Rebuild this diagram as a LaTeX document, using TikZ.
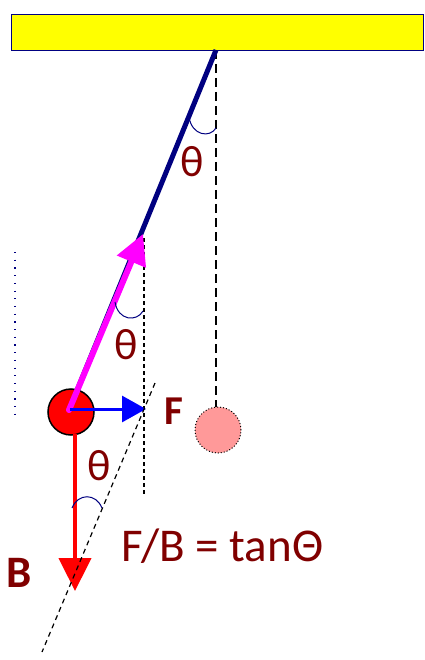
\documentclass[tikz,border=0pt]{standalone}
\usepackage{fontspec}
\setmainfont{Carlito}
\usetikzlibrary{arrows.meta}
\definecolor{maroon}{HTML}{800000}
\definecolor{navy}{HTML}{000080}
\definecolor{pinkball}{HTML}{FF9999}
\definecolor{mag}{HTML}{FF00FF}
\definecolor{yel}{HTML}{FFFF00}
\definecolor{bluearrow}{HTML}{0000FF}
\definecolor{redarrow}{HTML}{FF0000}
\tikzset{
  lbl/.style={text=maroon, inner sep=0pt},
  anglearc/.style={draw=navy, line width=1pt},
  longdash/.style={draw=black, line width=1.2pt, dash pattern=on 9pt off 5pt},
  shortdash/.style={draw=black, line width=1.2pt, dash pattern=on 4pt off 3pt},
  ball/.style={circle, minimum size=46pt, inner sep=0pt},
}
\begin{document}
\begin{tikzpicture}[x=1pt,y=-1pt]
\useasboundingbox (0,0) rectangle (424,660);
% support bar
\node[draw=navy, line width=1pt, fill=yel, minimum width=412pt, minimum height=36pt, inner sep=0pt, anchor=north west] (bar) at (11,14) {};
\coordinate (pivot) at (216,50);
\coordinate (bob) at (69,410);
% equilibrium position
\coordinate (eqtop) at (216,50);
\node[ball, fill=pinkball, draw=black, line width=1pt, dotted] (rest) at (218,430) {};
\draw[longdash] (eqtop) -- (rest.north -| eqtop);
% short dashed vertical
\coordinate (v1) at (144,238);
\coordinate (v2) at (144,494);
\draw[shortdash] (v1) -- (v2);
% dotted left line
\coordinate (d1) at (15,252);
\coordinate (d2) at (15,420);
\draw[navy, line width=1.2pt, dash pattern=on 1.2pt off 6.5pt] (d1) -- (d2);
% string
\draw[navy, line width=5pt] (pivot) -- (bob);
% red ball
\node[ball, fill=redarrow, draw=black, line width=1.5pt] (redball) at (71,412) {};
% tension arrow
\coordinate (Ttip) at (143,234);
\draw[mag, line width=6pt, line cap=round, -{Triangle[length=30pt,width=30pt]}] (bob) -- (Ttip);
% F arrow
\coordinate (Fstart) at (70,409);
\coordinate (Ftip) at (146,409);
\draw[bluearrow, line width=3pt, -{Triangle[length=24pt,width=26pt]}] (Fstart) -- (Ftip);
% B arrow
\coordinate (Bstart) at (75,434);
\coordinate (Btip) at (75,591);
\draw[redarrow, line width=4.5pt, -{Triangle[length=33pt,width=32pt]}] (Bstart) -- (Btip);
% diagonal dashed
\coordinate (g1) at (155,383);
\coordinate (g2) at (42,652);
\draw[black, line width=1.2pt, dash pattern=on 5pt off 4pt] (g1) -- (g2);
% angle arcs
\coordinate (a1s) at (189,117);
\coordinate (a1e) at (216,128);
\draw[anglearc] (a1s) .. controls (192,136) and (210,138) .. (a1e);
\coordinate (a2s) at (115,302);
\coordinate (a2e) at (143,311);
\draw[anglearc] (a2s) .. controls (118,321) and (137,322) .. (a2e);
\coordinate (a3s) at (72,508);
\coordinate (a3e) at (102,508);
\draw[anglearc] (a3s) .. controls (78,493) and (96,493) .. (a3e);
% labels
\node[lbl, font=\fontsize{44}{48}\selectfont] (th1) at (192,162) {θ};
\node[lbl, font=\fontsize{44}{48}\selectfont] (th2) at (126,345) {θ};
\node[lbl, font=\fontsize{44}{48}\selectfont] (th3) at (99,466) {θ};
\node[lbl, font=\fontsize{41}{45}\selectfont\bfseries] (Flbl) at (174,411) {F};
\node[lbl, font=\fontsize{45}{49}\selectfont\bfseries] (Blbl) at (19,573) {B};
\node[lbl, font=\fontsize{47}{51}\selectfont, anchor=base west] (eq) at (121,561) {F/B = tanΘ};
\end{tikzpicture}
\end{document}
